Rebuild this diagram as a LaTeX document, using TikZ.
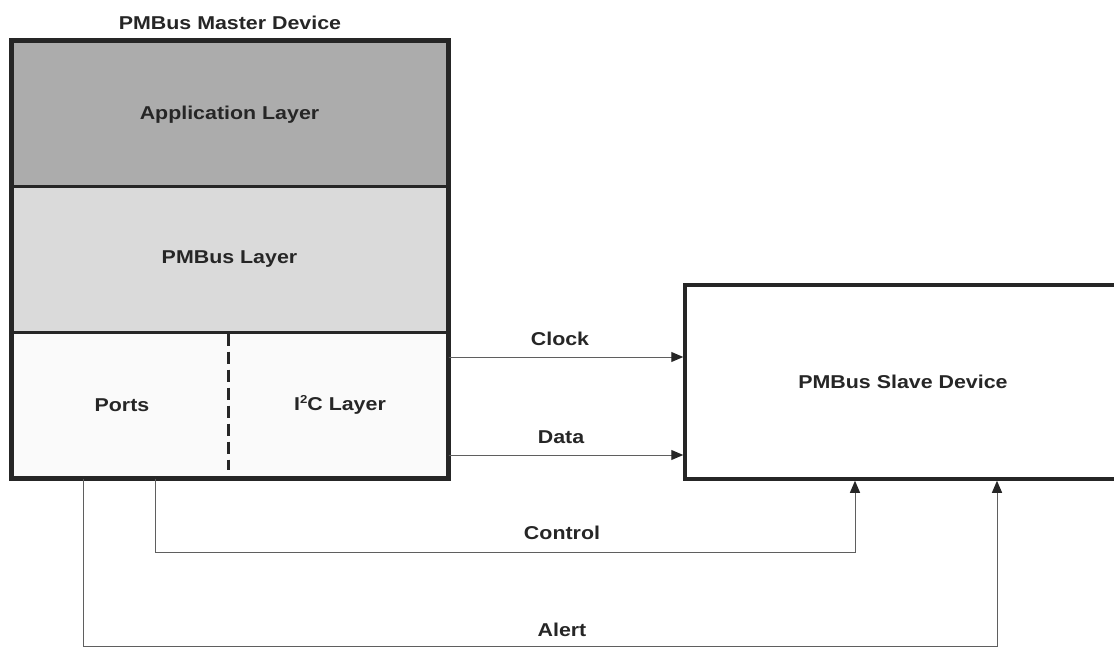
\documentclass[tikz,border=0pt]{standalone}
\usepackage{fontspec}
\setmainfont{Liberation Sans}[FakeStretch=1.15]
\usetikzlibrary{arrows.meta}
\definecolor{appgray}{RGB}{172,172,172}
\definecolor{pmgray}{RGB}{218,218,218}
\definecolor{portwhite}{RGB}{250,250,250}
\definecolor{inkgray}{RGB}{38,38,38}
\definecolor{wiregray}{RGB}{95,95,95}
\newcommand{\supsmall}[1]{\raisebox{0.36em}{\fontsize{11.5}{12}\selectfont #1}}
\begin{document}
\begin{tikzpicture}[x=1pt,y=-1pt,
  every node/.style={text=inkgray, font=\fontsize{18.6}{22}\selectfont\bfseries},
  layer/.style={draw=inkgray, line width=3pt, minimum width=435pt, minimum height=145pt, inner sep=0pt},
  devbox/.style={draw=inkgray, line width=3.5pt, inner sep=0pt},
  wire/.style={draw=wiregray, line width=1pt},
  sig/.style={wire, -{Triangle[length=12pt,width=10pt,color=inkgray]}},
  divider/.style={draw=inkgray, line width=3pt, dash pattern=on 12pt off 6pt}]
  \useasboundingbox[fill=white] (0,0) rectangle (1114,647);

  % master device: three stacked layers
  \node[layer, fill=appgray] (app) at (229.5,114.5) {Application Layer};
  \node[layer, fill=pmgray]  (pm)  at (229.5,259.5) {PMBus Layer};
  \node[layer, fill=portwhite] (bot) at (229.5,404.5) {};
  \draw[inkgray, line width=4pt] (app.north west) rectangle (bot.south east);
  \node (title) at (230,23) {PMBus Master Device};
  \node (ports) at (122,405) {Ports};
  \node (i2c) at (340,405) {I\supsmall{2}C Layer};
  \coordinate (dtop) at ([xshift=-1.5pt,yshift=-3pt]bot.north);
  \coordinate (dbot) at ([xshift=-1.5pt,yshift=9pt]bot.south);
  \draw[divider] (dtop) -- (dbot);

  % slave device
  \node[devbox, minimum width=436pt, minimum height=194pt] (slave) at (903,382) {PMBus Slave Device};

  % bus lines
  \coordinate (clk) at ([yshift=47.5pt]bot.east);
  \coordinate (dat) at ([yshift=-50.5pt]bot.east);
  \draw[sig] (clk) -- (clk -| slave.west);
  \draw[sig] (dat) -- (dat -| slave.west);
  \node (clklbl) at (560,339) {Clock};
  \node (datlbl) at (561,437) {Data};

  \coordinate (ctl) at ([xshift=-74.5pt]bot.south);
  \coordinate (ctlend) at ([xshift=-48pt]slave.south);
  \draw[sig] (ctl) -- ++(0,74) -| (ctlend);
  \node (ctllbl) at (562,533) {Control};

  \coordinate (alr) at ([xshift=-146.5pt]bot.south);
  \coordinate (alrend) at ([xshift=94pt]slave.south);
  \draw[sig] (alr) -- ++(0,168) -| (alrend);
  \node (alrlbl) at (562,630) {Alert};
\end{tikzpicture}
\end{document}
